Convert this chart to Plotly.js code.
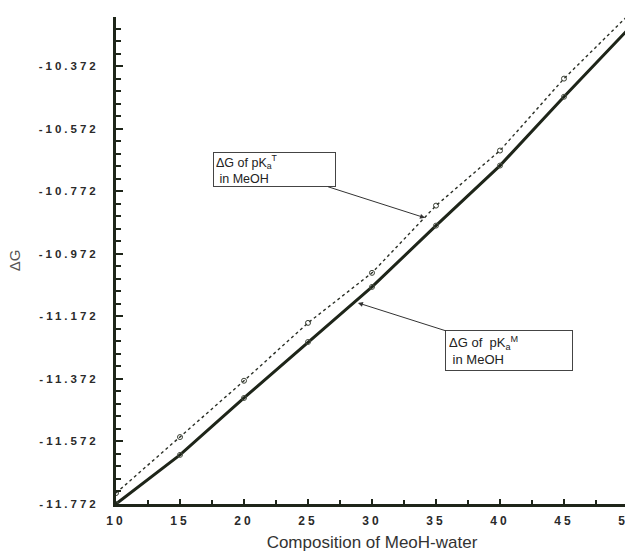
<!DOCTYPE html>
<html>
<head>
<meta charset="utf-8">
<script src="https://cdn.plot.ly/plotly-3.0.1.min.js"></script>
<style>
html, body { margin: 0; padding: 0; overflow: hidden; background: #fff; }
#chart .xtick text, #chart .ytick text { letter-spacing: 3px; }
</style>
</head>
<body>
<div id="chart"></div>
<script>
const composition = [10, 15, 20, 25, 30, 35, 40, 45, 50];
const dG_pKaM = [-11.772, -11.615, -11.433, -11.254, -11.078, -10.882, -10.690, -10.470, -10.255];
const dG_pKaT = [-11.737, -11.558, -11.378, -11.193, -11.033, -10.818, -10.642, -10.412, -10.210];
const yTickVals = [-11.772, -11.572, -11.372, -11.172, -10.972, -10.772, -10.572, -10.372];
const yTickText = ['-11.772', '-11.572', '-11.372', '-11.172', '-10.972', '-10.772', '-10.572', '-10.372'];
const xTickVals = [10, 15, 20, 25, 30, 35, 40, 45, 50];

const ink = '#1e2519';

const traces = [
  {
    x: composition, y: dG_pKaT, type: 'scatter', mode: 'lines+markers',
    name: 'ΔG of pKaT in MeOH',
    line: { color: '#2a2f26', width: 1.4, dash: 'dot' },
    marker: { symbol: 'circle-open', size: 5, color: '#3a4034', line: { width: 1 } },
    cliponaxis: true
  },
  {
    x: composition, y: dG_pKaM, type: 'scatter', mode: 'lines+markers',
    name: 'ΔG of pKaM in MeOH',
    line: { color: ink, width: 3 },
    marker: { symbol: 'circle-open', size: 5, color: '#4a5045', line: { width: 1 } },
    cliponaxis: true
  }
];

const layout = {
  width: 640, height: 553,
  margin: { l: 116, r: 12, t: 17, b: 49 },
  paper_bgcolor: '#ffffff', plot_bgcolor: '#ffffff',
  showlegend: false,
  font: { family: 'Liberation Sans, Arial, sans-serif', color: '#222' },
  xaxis: {
    range: [10, 50], tickvals: xTickVals, ticktext: xTickVals.map(String),
    showgrid: false, zeroline: false,
    showline: true, linecolor: ink, linewidth: 3,
    ticks: 'inside', ticklen: 5, tickwidth: 2, tickcolor: ink,
    minor: { dtick: 2.5, tick0: 10, ticks: 'inside', ticklen: 4, tickwidth: 2, tickcolor: ink, showgrid: false },
    tickfont: { size: 12, weight: 'bold', color: '#2a2a2a', family: 'Liberation Sans, Arial, sans-serif' },
    ticklabelstandoff: 4,
    title: { text: 'Composition of MeoH-water', font: { size: 17, color: '#333' }, standoff: 9 }
  },
  yaxis: {
    range: [-11.772, -10.215], tickvals: yTickVals, ticktext: yTickText,
    showgrid: false, zeroline: false,
    showline: true, linecolor: ink, linewidth: 3,
    ticks: 'inside', ticklen: 7, tickwidth: 2, tickcolor: ink,
    minor: { dtick: 0.04, tick0: -11.772, ticks: 'inside', ticklen: 5, tickwidth: 2, tickcolor: ink, showgrid: false },
    tickfont: { size: 11.5, weight: 'bold', color: '#2a2a2a', family: 'Liberation Sans, Arial, sans-serif' },
    ticklabelstandoff: 12,
    title: { text: 'ΔG', font: { size: 15, color: '#555' }, standoff: 36 }
  },
  annotations: [
    {
      x: 34.14, y: -10.857, xref: 'x', yref: 'y',
      text: 'ΔG of pK<sub>a</sub><sup>T</sup><br> in MeOH', align: 'left',
      showarrow: true, ax: -150, ay: -48, arrowhead: 2, arrowsize: 1, arrowwidth: 1, arrowcolor: '#333',
      bordercolor: '#444', borderwidth: 1, borderpad: 2, bgcolor: '#fff',
      font: { size: 12.5, color: '#222' }, width: 117, height: 29
    },
    {
      x: 28.9, y: -11.129, xref: 'x', yref: 'y',
      text: 'ΔG of  pK<sub>a</sub><sup>M</sup><br> in MeOH', align: 'left',
      showarrow: true, ax: 151, ay: 48, arrowhead: 2, arrowsize: 1, arrowwidth: 1, arrowcolor: '#333',
      bordercolor: '#444', borderwidth: 1, borderpad: 3, bgcolor: '#fff',
      font: { size: 13, color: '#222' }, width: 120, height: 33
    }
  ]
};

Plotly.newPlot('chart', traces, layout, { displayModeBar: false, staticPlot: true });
</script>
</body>
</html>
